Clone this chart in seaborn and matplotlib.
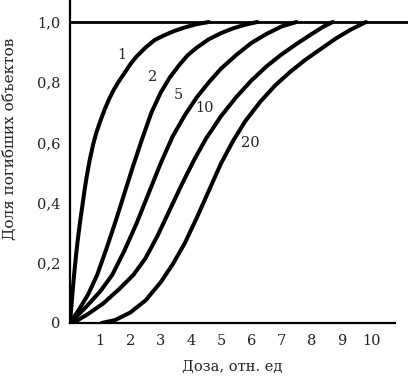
import matplotlib
matplotlib.use("Agg")
import matplotlib.pyplot as plt
import seaborn as sns
import pandas as pd

# Curves: dose (relative units) vs fraction of killed objects
c1_x = [0, 0.05, 0.1, 0.15, 0.2, 0.25, 0.3, 0.36, 0.41, 0.48, 0.55, 0.65, 0.77, 0.88,
        1.0, 1.15, 1.3, 1.45, 1.6, 1.8, 2.0, 2.2, 2.5, 2.8, 3.1, 3.45, 3.8, 4.2, 4.6]
c1_y = [0, 0.06, 0.12, 0.175, 0.225, 0.27, 0.31, 0.355, 0.39, 0.44, 0.485, 0.54, 0.595, 0.635,
        0.67, 0.71, 0.745, 0.775, 0.80, 0.83, 0.86, 0.885, 0.915, 0.94, 0.955, 0.97, 0.982, 0.993, 1.0]

c2_x = [0, 0.3, 0.6, 0.9, 1.2, 1.5, 1.8, 2.1, 2.4, 2.7, 3.0, 3.3, 3.6, 3.9, 4.2, 4.6,
        5.0, 5.4, 5.8, 6.2]
c2_y = [0, 0.045, 0.095, 0.16, 0.245, 0.335, 0.43, 0.525, 0.615, 0.70, 0.765, 0.815, 0.855, 0.89,
        0.915, 0.943, 0.963, 0.979, 0.991, 1.0]

c5_x = [0, 0.5, 1.0, 1.4, 1.8, 2.2, 2.6, 3.0, 3.4, 3.8, 4.2, 4.6, 5.0, 5.5, 6.0, 6.5, 7.0, 7.5]
c5_y = [0, 0.05, 0.105, 0.16, 0.24, 0.33, 0.43, 0.53, 0.62, 0.69, 0.75, 0.80, 0.845, 0.89,
        0.93, 0.96, 0.985, 1.0]

c10_x = [0.1, 0.6, 1.1, 1.6, 2.1, 2.5, 2.9, 3.3, 3.7, 4.1, 4.5, 5.0, 5.5, 6.0, 6.5, 7.0,
         7.5, 8.0, 8.4, 8.7]
c10_y = [0, 0.03, 0.065, 0.11, 0.16, 0.215, 0.29, 0.375, 0.46, 0.54, 0.612, 0.687, 0.75, 0.805,
         0.852, 0.892, 0.927, 0.96, 0.985, 1.0]

c20_x = [1.05, 1.5, 2.0, 2.5, 3.0, 3.4, 3.8, 4.2, 4.6, 5.0, 5.4, 5.8, 6.3, 6.8, 7.3, 7.8,
         8.3, 8.8, 9.3, 9.8]
c20_y = [0, 0.01, 0.035, 0.075, 0.135, 0.195, 0.265, 0.35, 0.44, 0.53, 0.605, 0.67, 0.735, 0.79,
         0.835, 0.875, 0.91, 0.945, 0.975, 1.0]

curve_names = ["1", "2", "5", "10", "20"]
label_x = [1.72, 2.72, 3.58, 4.47, 5.96]
label_y = [0.89, 0.817, 0.757, 0.714, 0.598]

x_ticks = [1, 2, 3, 4, 5, 6, 7, 8, 9, 10]
y_ticks = [0, 0.2, 0.4, 0.6, 0.8, 1.0]
y_tick_labels = ["0", "0,2", "0,4", "0,6", "0,8", "1,0"]

frames = []
for name, xs, ys in zip(curve_names,
                        [c1_x, c2_x, c5_x, c10_x, c20_x],
                        [c1_y, c2_y, c5_y, c10_y, c20_y]):
    frames.append(pd.DataFrame({"dose": xs, "frac": ys, "n": name}))
df = pd.concat(frames, ignore_index=True)

sns.set_theme(style="white")
plt.rcParams["font.family"] = ["DejaVu Serif"]

fig = plt.figure(figsize=(4.08, 3.80), dpi=100)
ax = fig.add_axes([70 / 408, 57 / 380, 338 / 408, 323 / 380])

sns.lineplot(data=df, x="dose", y="frac", hue="n", hue_order=curve_names,
             palette=["black"] * 5, sort=False, estimator=None,
             legend=False, linewidth=2.9, ax=ax, solid_joinstyle="round")

ax.axhline(1.0, color="black", linewidth=2.0, zorder=3)

for t, lx, ly in zip(curve_names, label_x, label_y):
    ax.text(lx, ly, t, ha="center", va="center", fontsize=10.5, color="#222222")

ax.set_xlim(0, 338 / 30.2)
ax.set_ylim(0, 323 / 301)

for s in ["top", "right"]:
    ax.spines[s].set_visible(False)
for s in ["left", "bottom"]:
    ax.spines[s].set_color("black")
    ax.spines[s].set_linewidth(1.6)
ax.spines["bottom"].set_bounds(0, 10.75)

ax.set_xticks(x_ticks)
ax.set_xticklabels([str(v) for v in x_ticks])
ax.set_yticks(y_ticks)
ax.set_yticklabels(y_tick_labels)
ax.tick_params(axis="both", direction="in", length=5, width=1.3, colors="black",
               labelsize=10.5, labelcolor="#222222")
ax.tick_params(axis="x", pad=8)
ax.tick_params(axis="y", pad=7)

ax.set_xlabel("Доза, отн. ед", fontsize=10.5, color="#222222")
ax.set_ylabel("Доля погибших объектов", fontsize=11, color="#222222")
ax.xaxis.set_label_coords(0.479, -0.115)
ax.yaxis.set_label_coords(-0.157, 0.57)

fig.savefig("out.png", dpi=100, facecolor="white")
